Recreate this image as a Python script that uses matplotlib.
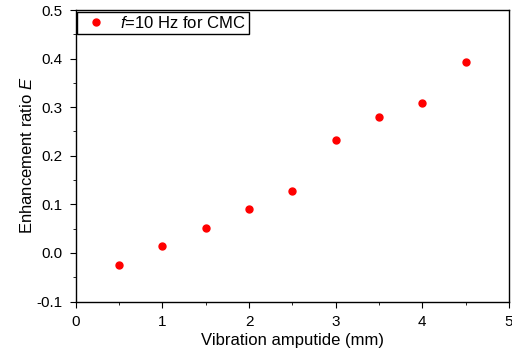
import matplotlib
matplotlib.use("Agg")
import matplotlib.pyplot as plt
from matplotlib.ticker import MultipleLocator, FormatStrFormatter

# data
amplitude = [0.5, 1.0, 1.5, 2.0, 2.5, 3.0, 3.5, 4.0, 4.5]
ratio = [-0.024, 0.014, 0.052, 0.090, 0.128, 0.233, 0.279, 0.309, 0.393]

plt.rcParams['font.family'] = ['Liberation Sans', 'DejaVu Sans']
plt.rcParams['mathtext.fontset'] = 'custom'
plt.rcParams['mathtext.it'] = 'Liberation Sans:italic'
plt.rcParams['mathtext.rm'] = 'Liberation Sans'

fig = plt.figure(figsize=(5.12, 3.51), dpi=100)
ax = fig.add_axes([0.148, 0.141, 0.846, 0.8305])

ax.plot(amplitude, ratio, 'o', color='red', markersize=5,
        label=r'$f$=10 Hz for CMC')

ax.set_xlim(0, 5)
ax.set_ylim(-0.1, 0.5)
ax.xaxis.set_major_locator(MultipleLocator(1))
ax.xaxis.set_minor_locator(MultipleLocator(0.5))
ax.yaxis.set_major_locator(MultipleLocator(0.1))
ax.yaxis.set_minor_locator(MultipleLocator(0.05))
ax.yaxis.set_major_formatter(FormatStrFormatter('%.1f'))

ax.tick_params(which='both', direction='out', top=False, right=False,
               labelsize=11)
ax.tick_params(which='major', length=4)
ax.tick_params(which='minor', length=2.5)
ax.tick_params(axis='x', which='major', pad=5.5)
ax.tick_params(axis='y', which='major', pad=5.5)
for s in ax.spines.values():
    s.set_linewidth(1.0)

ax.set_xlabel('Vibration amputide (mm)', fontsize=12, labelpad=3)
ax.set_ylabel(r'Enhancement ratio $E$', fontsize=12, labelpad=1)

leg = ax.legend(loc='upper left', fontsize=12, fancybox=False,
                framealpha=1, edgecolor='black', borderaxespad=0.1,
                handlelength=1.8, handletextpad=0.55, borderpad=0.2)
leg.get_frame().set_linewidth(1.0)

fig.savefig('out.png', dpi=100)
